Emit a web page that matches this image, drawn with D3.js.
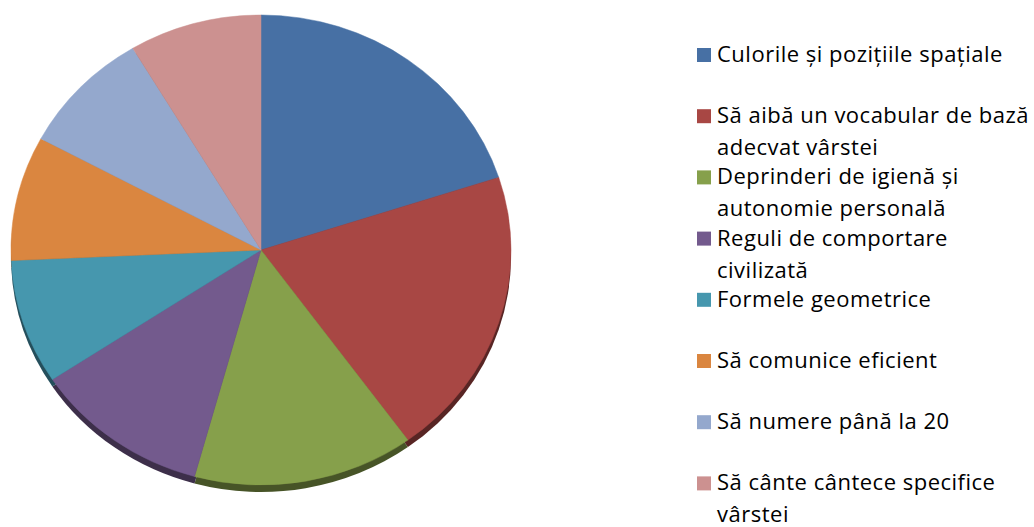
<!DOCTYPE html>
<html>
<head>
<meta charset="utf-8">
<script src="https://cdn.jsdelivr.net/npm/d3@7"></script>
<style>
    body { margin: 0; background: #fff; }
    svg { display: block; }
</style>
</head>
<body>
<svg id="chart" width="1034" height="527"></svg>
<script>
(function () {
    // date
    var categories = [
        "Culorile și pozițiile spațiale",
        "Să aibă un vocabular de bază\nadecvat vârstei",
        "Deprinderi de igienă și\nautonomie personală",
        "Reguli de comportare\ncivilizată",
        "Formele geometrice",
        "Să comunice eficient",
        "Să numere până la 20",
        "Să cânte cântece specifice\nvârstei"
    ]
    var values = [7, 7, 5, 4, 3, 3, 3, 3]
    var colors = ["#4770A4", "#A84744", "#86A04B", "#735A8D", "#4697AE", "#DA8640", "#94A8CD", "#CC9190"]

    var svg = d3.select("#chart")
    var cx = 261, cy = 250, rx = 250, ry = 235, depth = 7

    var pie = d3.pie().sort(null).value(function (d) { return d })
    var arcs = pie(values)
    var arc = d3.arc().innerRadius(0).outerRadius(rx)

    // partea laterala (umbra de jos)
    var side = svg.append("g")
        .attr("transform", "translate(" + cx + "," + (cy + depth) + ") scale(1," + (ry / rx) + ")")
    side.selectAll("path").data(arcs).enter().append("path")
        .attr("d", arc)
        .attr("fill", function (d, i) { return d3.color(colors[i]).darker(1.8) })

    var top = svg.append("g")
        .attr("transform", "translate(" + cx + "," + cy + ") scale(1," + (ry / rx) + ")")
    top.selectAll("path").data(arcs).enter().append("path")
        .attr("d", arc)
        .attr("fill", function (d, i) { return colors[i] })
        .attr("stroke", function (d, i) { return colors[i] })
        .attr("stroke-width", 0.5)

    // legenda
    var legX = 697, textX = 717, firstBase = 62, step = 61.2, lineH = 32, box = 14
    var legend = svg.append("g")
        .style("font-family", "'Open Sans', sans-serif")
        .style("font-size", "22px")
        .style("letter-spacing", "0.5px")
        .attr("fill", "#000")
    categories.forEach(function (c, i) {
        var base = firstBase + i * step
        legend.append("rect")
            .attr("x", legX).attr("y", base - box)
            .attr("width", box).attr("height", box)
            .attr("fill", colors[i])
        var t = legend.append("text").attr("x", textX).attr("y", base)
        c.split("\n").forEach(function (line, j) {
            t.append("tspan").attr("x", textX).attr("y", base + j * lineH).text(line)
        })
    })
}).call(this)
</script>
</body>
</html>
